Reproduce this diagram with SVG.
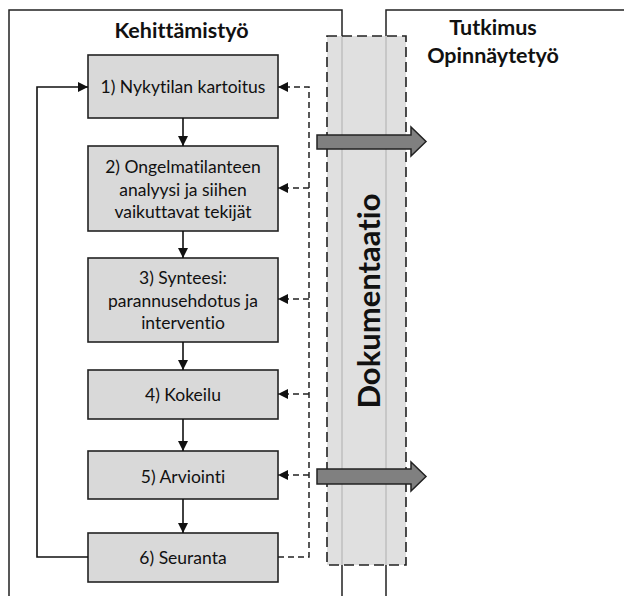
<svg xmlns="http://www.w3.org/2000/svg" width="624" height="596" viewBox="0 0 624 596">
<style>
.frame{fill:none;stroke:#222;stroke-width:1.5}
.box{fill:#d9d9d9;stroke:#222;stroke-width:1.6}
text{font-variant-ligatures:none;font-feature-settings:"liga" 0,"dlig" 0}
.t{font-family:Lato,"Open Sans",sans-serif;font-size:17.5px;fill:#111;text-anchor:middle}
.title{font-family:Lato,"Open Sans",sans-serif;font-size:21.5px;font-weight:bold;fill:#111;text-anchor:middle}
.solid{fill:none;stroke:#111;stroke-width:1.6}
.dash{fill:none;stroke:#222;stroke-width:1.5;stroke-dasharray:6 4}
.big{fill:#808080;stroke:#222;stroke-width:1.5}
</style>
<defs>
<marker id="ah" markerUnits="userSpaceOnUse" markerWidth="10" markerHeight="10" refX="10" refY="5" orient="auto">
<path d="M0,0 L10,5 L0,10 z" fill="#111"/>
</marker>
</defs>
<rect width="624" height="596" fill="#fff"/>
<g id="frame-kehittamistyo">
<path class="frame" d="M9,600 V10 H342 V600"/>
<text class="title" x="181.5" y="38">Kehittämistyö</text>
</g>
<g id="frame-tutkimus">
<path class="frame" d="M386,600 V10 H630"/>
<text class="title" x="493" y="35">Tutkimus</text>
<text class="title" x="493" y="63">Opinnäytetyö</text>
</g>
<g id="dokumentaatio">
<rect x="327" y="36" width="79" height="529" fill="#dadada" fill-opacity="0.85" stroke="#222" stroke-width="1.6" stroke-dasharray="10 5"/>
<text class="title" style="font-size:31px" transform="translate(380,301) rotate(-90)">Dokumentaatio</text>
</g>
<g id="n1"><rect class="box" x="88" y="55" width="190" height="63"/><text class="t" x="183" y="93">1) Nykytilan kartoitus</text></g>
<g id="n2"><rect class="box" x="88" y="146" width="190" height="85"/>
<text class="t" x="183" y="173">2) Ongelmatilanteen</text><text class="t" x="183" y="196">analyysi ja siihen</text><text class="t" x="183" y="218">vaikuttavat tekijät</text></g>
<g id="n3"><rect class="box" x="88" y="258" width="190" height="84"/>
<text class="t" x="183" y="284">3) Synteesi:</text><text class="t" x="183" y="307">parannusehdotus ja</text><text class="t" x="183" y="329">interventio</text></g>
<g id="n4"><rect class="box" x="88" y="370" width="190" height="49"/><text class="t" x="183" y="401">4) Kokeilu</text></g>
<g id="n5"><rect class="box" x="88" y="451" width="190" height="48"/><text class="t" x="183" y="483">5) Arviointi</text></g>
<g id="n6"><rect class="box" x="88" y="533" width="190" height="49"/><text class="t" x="183" y="564">6) Seuranta</text></g>
<g id="connectors">
<path class="solid" d="M183,118 V146" marker-end="url(#ah)"/>
<path class="solid" d="M183,231 V258" marker-end="url(#ah)"/>
<path class="solid" d="M183,342 V370" marker-end="url(#ah)"/>
<path class="solid" d="M183,419 V451" marker-end="url(#ah)"/>
<path class="solid" d="M183,499 V533" marker-end="url(#ah)"/>
<path class="solid" d="M88,557 H37 V87 H88" marker-end="url(#ah)"/>
<path class="dash" d="M278,557 H309 V87 H278" marker-end="url(#ah)"/>
<path class="dash" d="M309,188 H278" marker-end="url(#ah)"/>
<path class="dash" d="M309,299 H278" marker-end="url(#ah)"/>
<path class="dash" d="M309,394 H278" marker-end="url(#ah)"/>
<path class="dash" d="M309,475 H278" marker-end="url(#ah)"/>
<polygon class="big" points="317,135 411,135 411,127 426,141.5 411,156 411,149 317,149"/>
<polygon class="big" points="317,469 411,469 411,462 426,476.5 411,491 411,484 317,484"/>
</g>
</svg>
